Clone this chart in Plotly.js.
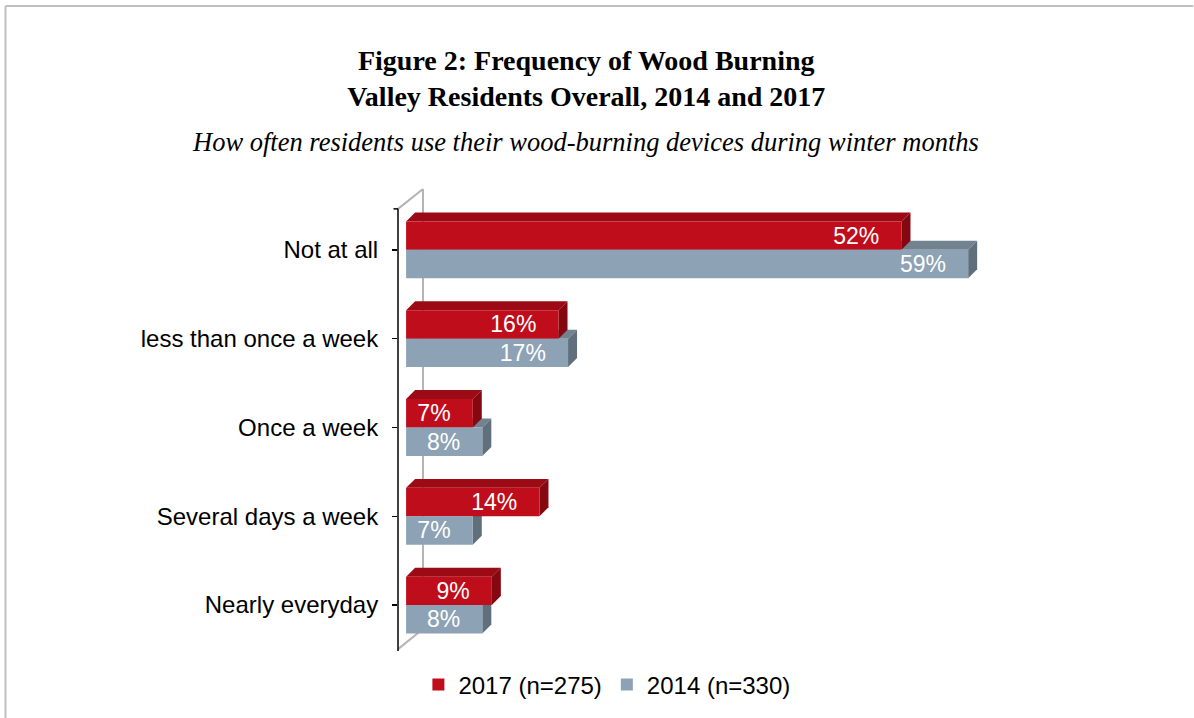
<!DOCTYPE html>
<html>
<head>
<meta charset="utf-8">
<script src="https://cdn.plot.ly/plotly-3.0.1.min.js"></script>
<style>html,body{margin:0;padding:0;background:#fff;}#chart{width:1194px;height:718px;}</style>
</head>
<body>
<div id="chart"></div>
<script>
// ---- data ----
var categories = ["Not at all", "less than once a week", "Once a week", "Several days a week", "Nearly everyday"];
var values2017 = [52, 16, 7, 14, 9];
var values2014 = [59, 17, 8, 7, 8];
var seriesNames = ["2017 (n=275)", "2014 (n=330)"];

// ---- style ----
var frontColors = ["#C00D1B", "#8DA2B5"];
var topColors = ["#9B0A15", "#71838F"];
var sideColors = ["#850811", "#5F6F7B"];
var BARGAP = 0.36;
var W = (1 - BARGAP) / 2;   // width of one bar in category units
var DX = 0.945;             // 3D depth in x units
var DY = 0.101;             // 3D depth in category units

function faceShapes(vals, s) {
  var out = [];
  for (var i = 0; i < vals.length; i++) {
    var v = vals[i];
    var y0 = i - W + s * W, y1 = y0 + W;
    out.push({type: 'path', xref: 'x', yref: 'y', layer: 'below',
      path: 'M0,' + y0 + ' L' + v + ',' + y0 + ' L' + (v + DX) + ',' + (y0 - DY) + ' L' + DX + ',' + (y0 - DY) + ' Z',
      fillcolor: topColors[s], line: {width: 0}});
    out.push({type: 'path', xref: 'x', yref: 'y', layer: 'below',
      path: 'M' + v + ',' + y0 + ' L' + (v + DX) + ',' + (y0 - DY) + ' L' + (v + DX) + ',' + (y1 - DY) + ' L' + v + ',' + y1 + ' Z',
      fillcolor: sideColors[s], line: {width: 0}});
  }
  return out;
}

var wallColor = '#B4B4B4';
var decor = [
  // page frame
  {type: 'line', xref: 'paper', yref: 'paper', x0: -0.5656, x1: 1.146, y0: 1.3963, y1: 1.3963, line: {color: '#C0C0C0', width: 2}},
  {type: 'line', xref: 'paper', yref: 'paper', x0: -0.5656, x1: -0.5656, y0: 1.3963, y1: -0.15, line: {color: '#C0C0C0', width: 2}},
  // 3D back wall edges
  {type: 'line', xref: 'paper', yref: 'paper', layer: 'below', x0: 0, y0: 0.957, x1: 0.036, y1: 1.0, line: {color: wallColor, width: 2}},
  {type: 'line', xref: 'paper', yref: 'paper', layer: 'below', x0: 0.036, y0: 1.0, x1: 0.036, y1: 0.0475, line: {color: wallColor, width: 2}},
  {type: 'line', xref: 'paper', yref: 'paper', layer: 'below', x0: 0.036, y0: 0.0475, x1: 0, y1: 0.004, line: {color: wallColor, width: 2}},
  // front axis line and top tick
  {type: 'line', xref: 'paper', yref: 'paper', x0: 0, y0: 0.957, x1: 0, y1: 0.0, line: {color: '#000', width: 1.5}},
  {type: 'line', xref: 'paper', yref: 'paper', x0: -0.0065, y0: 0.957, x1: 0, y1: 0.957, line: {color: '#000', width: 1.5}}
];

var shapes = decor.concat(faceShapes(values2014, 1), faceShapes(values2017, 0));

function barTrace(vals, s) {
  return {
    type: 'bar', orientation: 'h', name: seriesNames[s],
    x: vals, y: categories,
    marker: {color: frontColors[s], line: {width: 0}},
    texttemplate: '%{x}%\u00a0\u00a0\u00a0', textposition: 'inside', insidetextanchor: 'end',
    textangle: 0, constraintext: 'none', cliponaxis: false,
    textfont: {family: 'Liberation Sans, Arial, sans-serif', size: 23, color: '#FFFFFF'},
    hoverinfo: 'skip'
  };
}

var data = [barTrace(values2017, 0), barTrace(values2014, 1)];

var layout = {
  width: 1194, height: 718,
  paper_bgcolor: '#FFFFFF', plot_bgcolor: 'rgba(0,0,0,0)',
  margin: {l: 398, r: 102, t: 189, b: 66},
  barmode: 'group', bargap: BARGAP, bargroupgap: 0,
  font: {family: 'Liberation Sans, Arial, sans-serif', color: '#000'},
  title: {
    text: '<b>Figure 2: Frequency of Wood Burning<br>Valley Residents Overall, 2014 and 2017</b>',
    font: {family: 'Liberation Serif, Times New Roman, serif', size: 28, color: '#000'},
    x: 0.491, xanchor: 'center', xref: 'container',
    y: 0.903, yanchor: 'top', yref: 'container'
  },
  annotations: [{
    text: '<i>How often residents use their wood-burning devices during winter months</i>',
    xref: 'paper', yref: 'paper', x: 0.2695, y: 1.1015, xanchor: 'center', yanchor: 'middle',
    showarrow: false,
    font: {family: 'Liberation Serif, Times New Roman, serif', size: 26.5, color: '#000'}
  }],
  xaxis: {range: [-0.85, 72], showgrid: false, zeroline: false, showline: false, showticklabels: false, ticks: ''},
  yaxis: {
    type: 'category', categoryorder: 'array', categoryarray: categories,
    range: [4.517, -0.685], showgrid: false, zeroline: false, showline: false,
    ticks: 'outside', ticklen: 5, tickwidth: 1.5, tickcolor: '#000', ticklabelstandoff: 9,
    tickfont: {family: 'Liberation Sans, Arial, sans-serif', size: 24, color: '#000'}
  },
  legend: {
    orientation: 'h', x: 0.301, xanchor: 'center', y: -0.0713, yanchor: 'middle',
    font: {family: 'Liberation Sans, Arial, sans-serif', size: 24, color: '#000'},
    traceorder: 'normal', itemclick: false
  },
  showlegend: true,
  shapes: shapes
};

Plotly.newPlot('chart', data, layout, {displayModeBar: false, staticPlot: true});
</script>
</body>
</html>
